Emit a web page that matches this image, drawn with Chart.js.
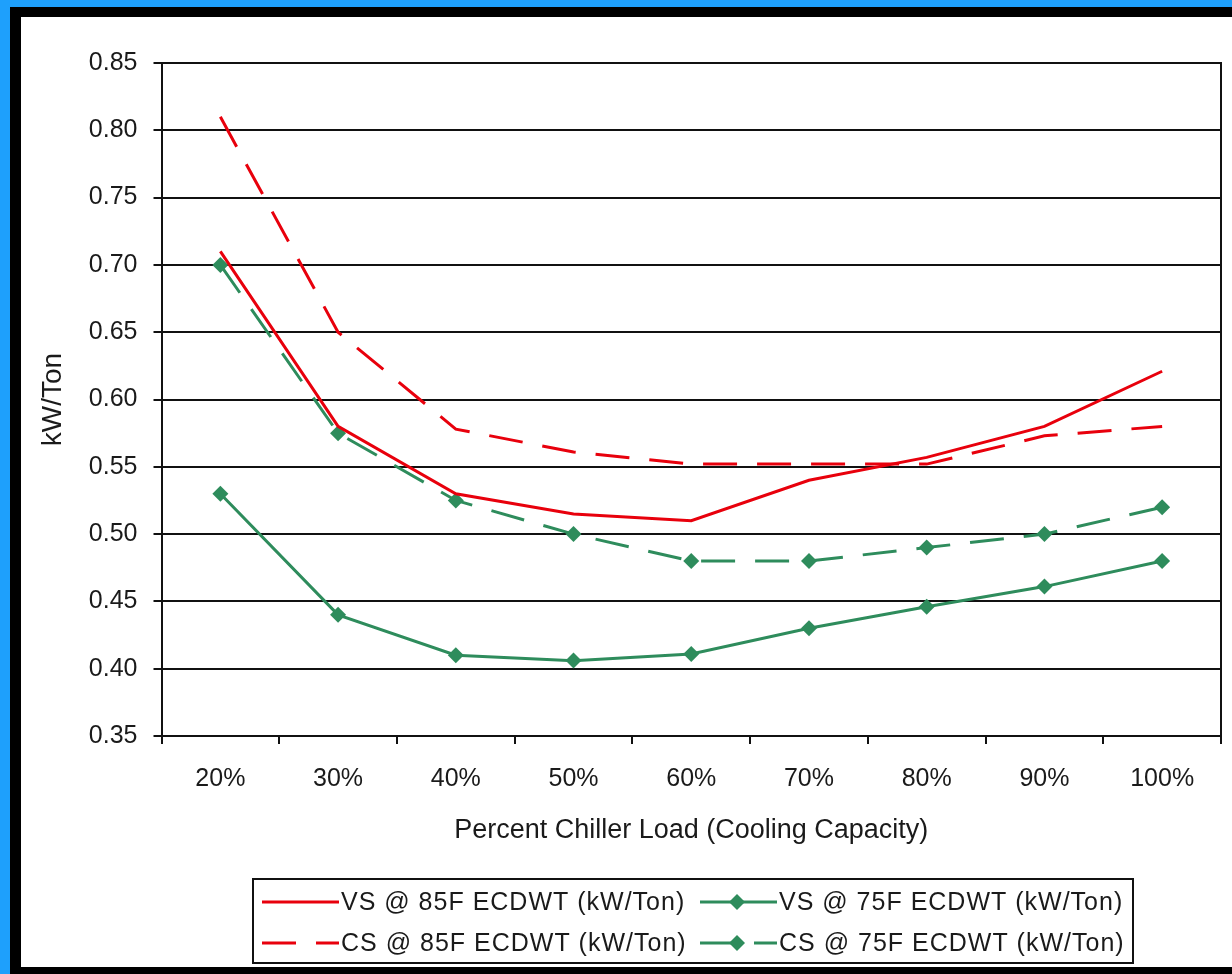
<!DOCTYPE html>
<html>
<head>
<meta charset="utf-8">
<script src="https://cdn.jsdelivr.net/npm/chart.js@4/dist/chart.umd.min.js"></script>
<style>
  html, body { margin: 0; padding: 0; }
  body { width: 1232px; height: 974px; background: #1ea0fc; position: relative; overflow: hidden; }
  #frame { position: absolute; left: 10px; top: 7px; width: 1211px; height: 950px;
           border-left: 11px solid #000; border-top: 10px solid #000; border-bottom: 7px solid #000;
           border-right: 0; background: #fff; }
  #wrap { position: absolute; left: 0; top: 0; width: 1211px; height: 950px; }
</style>
</head>
<body>
<div id="frame"><div id="wrap"><canvas id="canvas" width="1211" height="950"></canvas></div></div>
<script>
// percent chiller load categories
var loads = ['20%', '30%', '40%', '50%', '60%', '70%', '80%', '90%', '100%'];

// kW/Ton values
var vs85 = [0.71, 0.58, 0.53, 0.515, 0.51, 0.54, 0.557, 0.58, 0.621];
var vs75 = [0.53, 0.44, 0.41, 0.406, 0.411, 0.43, 0.446, 0.461, 0.48];
var cs85 = [0.81, 0.65, 0.578, 0.561, 0.552, 0.552, 0.552, 0.573, 0.58];
var cs75 = [0.70, 0.575, 0.525, 0.50, 0.48, 0.48, 0.49, 0.50, 0.52];

var yTicks = [0.35, 0.40, 0.45, 0.50, 0.55, 0.60, 0.65, 0.70, 0.75, 0.80, 0.85];

var RED = '#e8000c';
var GREEN = '#2e8c5c';
var FONT = '"Liberation Sans", Arial, sans-serif';
var TXT = '#1a1a1a';

// right plot border + legend box drawn by hand (Excel style)
var frameAndLegend = {
  id: 'frameAndLegend',
  beforeDatasetsDraw: function(chart) {
    var a = chart.chartArea, ctx = chart.ctx;
    ctx.save();
    ctx.strokeStyle = '#111';
    ctx.lineWidth = 2;
    ctx.beginPath();
    ctx.moveTo(a.right, a.top - 1);
    ctx.lineTo(a.right, a.bottom + 1);
    ctx.stroke();
    ctx.restore();
  },
  afterDraw: function(chart) {
    var ctx = chart.ctx;
    var box = { x: 232, y: 862, w: 880, h: 84 };
    ctx.save();
    ctx.strokeStyle = '#111';
    ctx.lineWidth = 2;
    ctx.strokeRect(box.x, box.y, box.w, box.h);

    var cols = [241, 679];
    var rows = [885, 926];
    var sampleW = 77;
    chart.data.datasets.forEach(function(ds, i) {
      var x = cols[i % 2], y = rows[Math.floor(i / 2)];
      ctx.save();
      ctx.strokeStyle = ds.borderColor;
      ctx.lineWidth = ds.borderWidth;
      ctx.setLineDash(ds.borderDash || []);
      ctx.beginPath();
      ctx.moveTo(x, y);
      ctx.lineTo(x + sampleW, y);
      ctx.stroke();
      ctx.restore();
      if (ds.pointRadius > 0) {
        var cx = x + 37, r = ds.pointRadius;
        ctx.fillStyle = ds.pointBackgroundColor;
        ctx.beginPath();
        ctx.moveTo(cx, y - r);
        ctx.lineTo(cx + r, y);
        ctx.lineTo(cx, y + r);
        ctx.lineTo(cx - r, y);
        ctx.closePath();
        ctx.fill();
      }
      ctx.fillStyle = TXT;
      ctx.font = '25px ' + FONT;
      ctx.letterSpacing = '1px';
      ctx.textBaseline = 'middle';
      ctx.textAlign = 'left';
      ctx.fillText(ds.label, x + sampleW + 2, y + 1);
      ctx.letterSpacing = '0px';
    });
    ctx.restore();
  }
};

var ctx = document.getElementById('canvas').getContext('2d');
window.my_chart = new Chart(ctx, {
  type: 'line',
  data: {
    labels: loads,
    datasets: [{
      label: 'VS @ 85F ECDWT (kW/Ton)',
      data: vs85,
      borderColor: RED,
      borderWidth: 3,
      pointRadius: 0,
      order: 0
    }, {
      label: 'VS @ 75F ECDWT (kW/Ton)',
      data: vs75,
      borderColor: GREEN,
      borderWidth: 3,
      pointStyle: 'rectRot',
      pointRadius: 8,
      pointBackgroundColor: GREEN,
      pointBorderColor: GREEN,
      pointBorderWidth: 0,
      order: 2
    }, {
      label: 'CS @ 85F ECDWT (kW/Ton)',
      data: cs85,
      borderColor: RED,
      borderWidth: 3,
      borderDash: [34, 20],
      pointRadius: 0,
      order: 1
    }, {
      label: 'CS @ 75F ECDWT (kW/Ton)',
      data: cs75,
      borderColor: GREEN,
      borderWidth: 3,
      borderDash: [34, 20],
      pointStyle: 'rectRot',
      pointRadius: 8,
      pointBackgroundColor: GREEN,
      pointBorderColor: GREEN,
      pointBorderWidth: 0,
      order: 3
    }]
  },
  options: {
    responsive: false,
    animation: false,
    layout: { padding: { top: 46, right: 11, left: 0, bottom: 0 } },
    plugins: {
      legend: { display: false },
      tooltip: { enabled: false }
    },
    elements: { line: { tension: 0 } },
    scales: {
      x: {
        offset: true,
        afterFit: function(scale) { scale.height = 231; },
        grid: { drawOnChartArea: false, drawTicks: true, tickLength: 8, color: '#111', lineWidth: 2, offset: true },
        border: { display: true, color: '#111', width: 2 },
        ticks: { color: TXT, font: { family: FONT, size: 25 }, padding: 20, maxRotation: 0 },
        title: {
          display: true,
          text: 'Percent Chiller Load (Cooling Capacity)',
          color: TXT,
          font: { family: FONT, size: 27 },
          padding: { top: 0, bottom: 120 }
        }
      },
      y: {
        min: 0.35,
        max: 0.85,
        afterFit: function(scale) { scale.width = 140.5; },
        afterBuildTicks: function(scale) {
          scale.ticks = yTicks.map(function(v) { return { value: v }; });
        },
        grid: { color: '#111', lineWidth: 2, drawTicks: true, tickLength: 8 },
        border: { display: true, color: '#111', width: 2 },
        ticks: {
          color: TXT,
          font: { family: FONT, size: 25 },
          padding: 16,
          callback: function(v) { return Number(v).toFixed(2); }
        },
        title: {
          display: true,
          text: 'kW/Ton',
          color: TXT,
          font: { family: FONT, size: 28 },
          padding: { top: 15, bottom: 0 }
        }
      }
    }
  },
  plugins: [frameAndLegend]
});
</script>
</body>
</html>
